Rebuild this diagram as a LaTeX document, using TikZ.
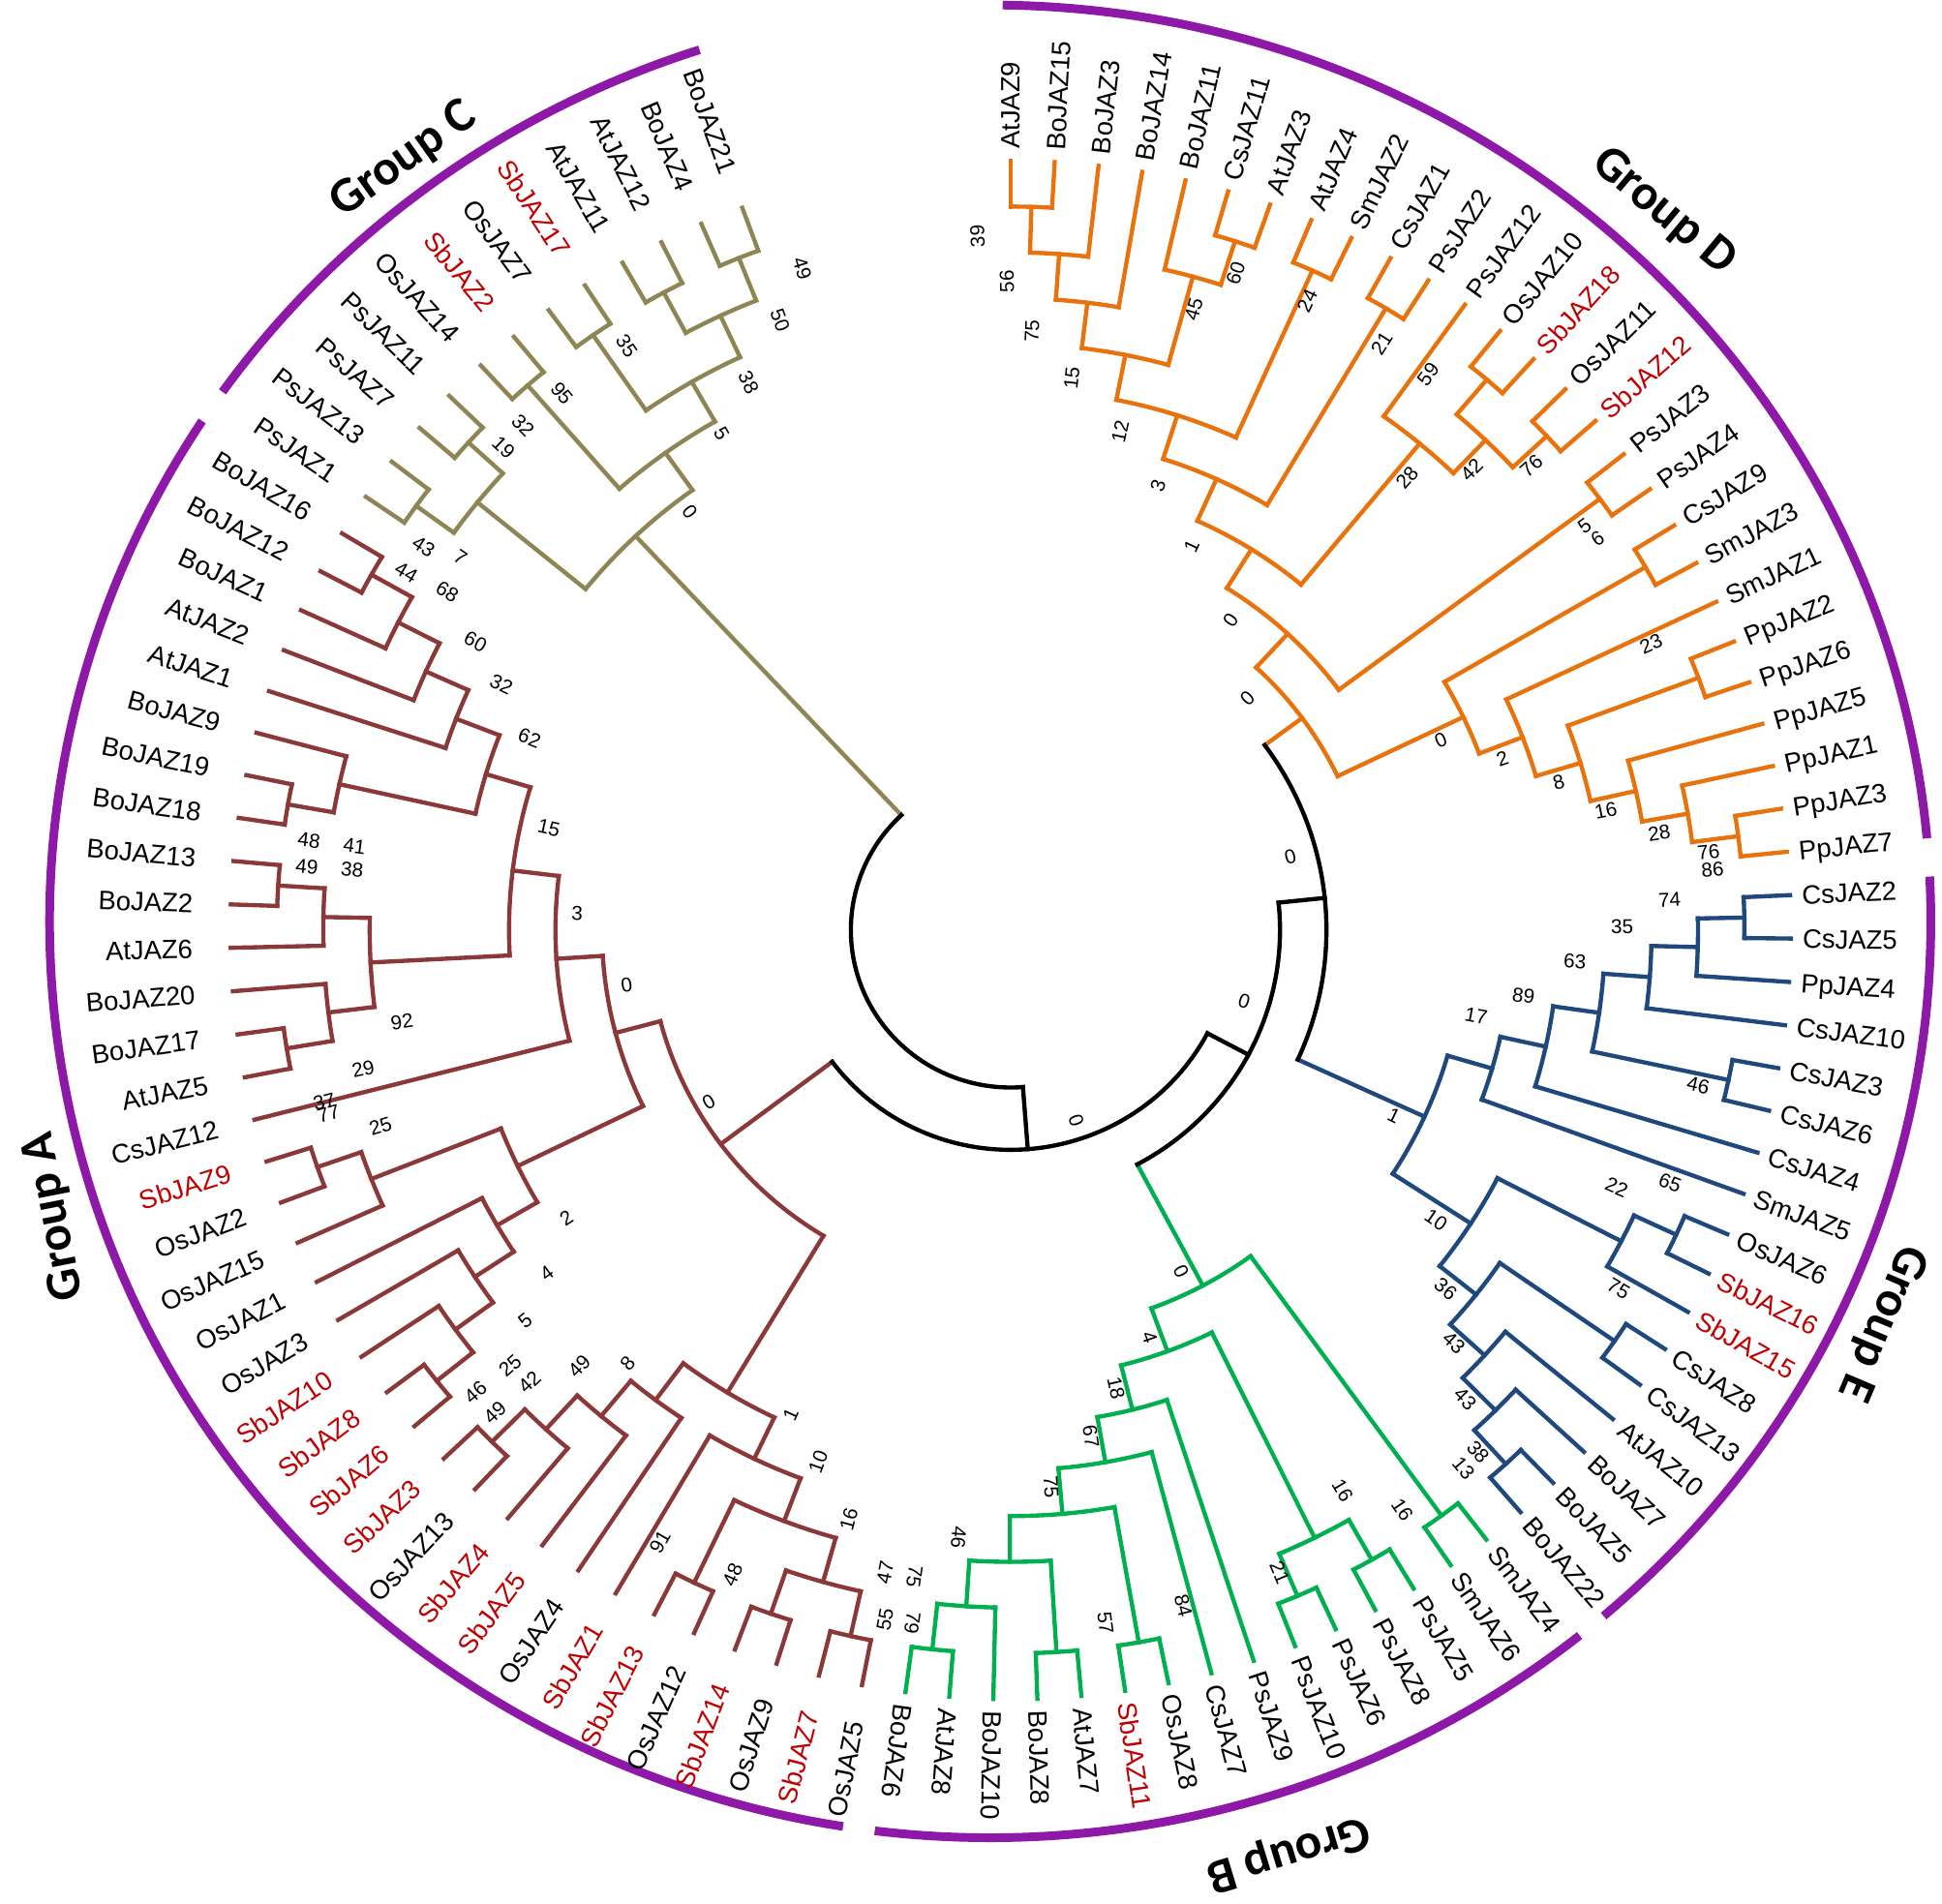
\documentclass[tikz,border=0pt]{standalone}
\usepackage{fontspec}
\setmainfont{Liberation Sans}
\newfontfamily\grpfont{Carlito}
\definecolor{cC}{RGB}{141,133,84}
\definecolor{cA}{RGB}{139,56,56}
\definecolor{cD}{RGB}{232,114,12}
\definecolor{cE}{RGB}{31,73,125}
\definecolor{cB}{RGB}{0,176,80}
\definecolor{cP}{RGB}{142,24,168}
\definecolor{cR}{RGB}{192,0,0}
\tikzset{
  br/.style={line width=0.34mm,line cap=rect},
  lab/.style={inner sep=0pt,font=\fontsize{6.1}{7}\selectfont,text height=4.4pt,text depth=0pt},
  bsn/.style={inner sep=0pt,font=\fontsize{4.6}{5}\selectfont},
  grp/.style={inner sep=0pt,font=\grpfont\bfseries\fontsize{11.4}{13}\selectfont},
  arcP/.style={draw=cP,line width=0.7mm},
}
\newcommand\defnode[4]{%
  \expandafter\xdef\csname ang@#1\endcsname{#2}%
  \expandafter\xdef\csname hh@#1\endcsname{#3}%
  \expandafter\xdef\csname col@#1\endcsname{#4}}
% leaf: [text colour]{name}{index}{branch colour}
\newcommand\leaf[4][black]{%
  \pgfmathsetmacro\la{90-3.237*#3}%
  \defnode{#2}{\la}{0}{#4}%
  \coordinate (#2) at (\la:630);%
  \ifnum#3<59\relax
    \node[lab,text=#1,anchor=west,rotate=\la] (t#2) at (\la:639) {#2};%
  \else
    \pgfmathsetmacro\lb{\la+180}%
    \node[lab,text=#1,anchor=east,rotate=\lb] (t#2) at (\la:660) {#2};%
  \fi}
% clade: [radius]{name}{child1}{child2}{colour}
\newcommand\clade[5][]{%
  \edef\aA{\csname ang@#3\endcsname}%
  \edef\aB{\csname ang@#4\endcsname}%
  \pgfmathtruncatemacro\hN{max(\csname hh@#3\endcsname,\csname hh@#4\endcsname)+1}%
  \if\relax\detokenize{#1}\relax
    \pgfmathsetmacro\rN{630-37.5*\hN}%
  \else
    \def\rN{#1}%
  \fi
  \pgfmathsetmacro\aN{(\aA+\aB)/2}%
  \edef\cA{\csname col@#3\endcsname}\edef\cB{\csname col@#4\endcsname}%
  \draw[br,draw=\cA] (#3) -- (\aA:\rN);%
  \draw[br,draw=\cB] (#4) -- (\aB:\rN);%
  \draw[br,draw=#5] (\aA:\rN) arc[start angle=\aA,end angle=\aB,radius=\rN];%
  \coordinate (#2) at (\aN:\rN);%
  \defnode{#2}{\aN}{\hN}{#5}}
% bootstrap value at (x,y) in picture pixels
\newcommand\bsv[3]{%
  \pgfmathsetmacro\bsang{atan2(751-#2,#1-816)}%
  \pgfmathsetmacro\bsrot{ifthenelse(and(\bsang>-99.5,\bsang<100),\bsang,\bsang+180)}%
  \node[bsn,rotate=\bsrot] at (#1,-#2) {#3};}
\begin{document}
\begin{tikzpicture}[x=0.1mm,y=0.1mm]
\fill[white] (0,0) rectangle (1568,-1537);
\useasboundingbox (0,0) rectangle (1568,-1537);
% group arcs
\coordinate (pc) at (799.5,-744);
\draw[arcP] (pc) ++(89.24:759.5 and 740) arc[start angle=89.24,end angle=5.2,x radius=759.5,y radius=740];
\draw[arcP] (pc) ++(2.8:759.5 and 740) arc[start angle=2.8,end angle=-49.3,x radius=759.5,y radius=740];
\draw[arcP] (pc) ++(-51.2:759.5 and 740) arc[start angle=-51.2,end angle=-97.05,x radius=759.5,y radius=740];
\draw[arcP] (pc) ++(-99:759.5 and 740) arc[start angle=-99,end angle=-213.1,x radius=759.5,y radius=740];
\draw[arcP] (pc) ++(-215.3:759.5 and 740) arc[start angle=-215.3,end angle=-252,x radius=759.5,y radius=740];
\node[grp,rotate=35.4] (gC) at (326,-129) {Group C};
\node[grp,rotate=-39.8] (gD) at (1343,-171) {Group D};
\node[grp,rotate=-113] (gE) at (1519,-1068) {Group E};
\node[grp,rotate=-163] (gB) at (1040,-1496) {Group B};
\node[grp,rotate=101] (gA) at (44,-982) {Group A};
\begin{scope}[shift={(816,-751)},yscale=0.986]
% Group D
\leaf{AtJAZ9}{0}{cD}
\leaf{BoJAZ15}{1}{cD}
\leaf{BoJAZ3}{2}{cD}
\leaf{BoJAZ14}{3}{cD}
\leaf{BoJAZ11}{4}{cD}
\leaf{CsJAZ11}{5}{cD}
\leaf{AtJAZ3}{6}{cD}
\leaf{AtJAZ4}{7}{cD}
\leaf{SmJAZ2}{8}{cD}
\leaf{CsJAZ1}{9}{cD}
\leaf{PsJAZ2}{10}{cD}
\leaf{PsJAZ12}{11}{cD}
\leaf{OsJAZ10}{12}{cD}
\leaf[cR]{SbJAZ18}{13}{cD}
\leaf{OsJAZ11}{14}{cD}
\leaf[cR]{SbJAZ12}{15}{cD}
\leaf{PsJAZ3}{16}{cD}
\leaf{PsJAZ4}{17}{cD}
\leaf{CsJAZ9}{18}{cD}
\leaf{SmJAZ3}{19}{cD}
\leaf{SmJAZ1}{20}{cD}
\leaf{PpJAZ2}{21}{cD}
\leaf{PpJAZ6}{22}{cD}
\leaf{PpJAZ5}{23}{cD}
\leaf{PpJAZ1}{24}{cD}
\leaf{PpJAZ3}{25}{cD}
\leaf{PpJAZ7}{26}{cD}
% Group E
\leaf{CsJAZ2}{27}{cE}
\leaf{CsJAZ5}{28}{cE}
\leaf{PpJAZ4}{29}{cE}
\leaf{CsJAZ10}{30}{cE}
\leaf{CsJAZ3}{31}{cE}
\leaf{CsJAZ6}{32}{cE}
\leaf{CsJAZ4}{33}{cE}
\leaf{SmJAZ5}{34}{cE}
\leaf{OsJAZ6}{35}{cE}
\leaf[cR]{SbJAZ16}{36}{cE}
\leaf[cR]{SbJAZ15}{37}{cE}
\leaf{CsJAZ8}{38}{cE}
\leaf{CsJAZ13}{39}{cE}
\leaf{AtJAZ10}{40}{cE}
\leaf{BoJAZ7}{41}{cE}
\leaf{BoJAZ5}{42}{cE}
\leaf{BoJAZ22}{43}{cE}
% Group B
\leaf{SmJAZ4}{44}{cB}
\leaf{SmJAZ6}{45}{cB}
\leaf{PsJAZ5}{46}{cB}
\leaf{PsJAZ8}{47}{cB}
\leaf{PsJAZ6}{48}{cB}
\leaf{PsJAZ10}{49}{cB}
\leaf{PsJAZ9}{50}{cB}
\leaf{CsJAZ7}{51}{cB}
\leaf{OsJAZ8}{52}{cB}
\leaf[cR]{SbJAZ11}{53}{cB}
\leaf{AtJAZ7}{54}{cB}
\leaf{BoJAZ8}{55}{cB}
\leaf{BoJAZ10}{56}{cB}
\leaf{AtJAZ8}{57}{cB}
\leaf{BoJAZ6}{58}{cB}
% Group A
\leaf{OsJAZ5}{59}{cA}
\leaf[cR]{SbJAZ7}{60}{cA}
\leaf{OsJAZ9}{61}{cA}
\leaf[cR]{SbJAZ14}{62}{cA}
\leaf{OsJAZ12}{63}{cA}
\leaf[cR]{SbJAZ13}{64}{cA}
\leaf[cR]{SbJAZ1}{65}{cA}
\leaf{OsJAZ4}{66}{cA}
\leaf[cR]{SbJAZ5}{67}{cA}
\leaf[cR]{SbJAZ4}{68}{cA}
\leaf{OsJAZ13}{69}{cA}
\leaf[cR]{SbJAZ3}{70}{cA}
\leaf[cR]{SbJAZ6}{71}{cA}
\leaf[cR]{SbJAZ8}{72}{cA}
\leaf[cR]{SbJAZ10}{73}{cA}
\leaf{OsJAZ3}{74}{cA}
\leaf{OsJAZ1}{75}{cA}
\leaf{OsJAZ15}{76}{cA}
\leaf{OsJAZ2}{77}{cA}
\leaf[cR]{SbJAZ9}{78}{cA}
\leaf{CsJAZ12}{79}{cA}
\leaf{AtJAZ5}{80}{cA}
\leaf{BoJAZ17}{81}{cA}
\leaf{BoJAZ20}{82}{cA}
\leaf{AtJAZ6}{83}{cA}
\leaf{BoJAZ2}{84}{cA}
\leaf{BoJAZ13}{85}{cA}
\leaf{BoJAZ18}{86}{cA}
\leaf{BoJAZ19}{87}{cA}
\leaf{BoJAZ9}{88}{cA}
\leaf{AtJAZ1}{89}{cA}
\leaf{AtJAZ2}{90}{cA}
\leaf{BoJAZ1}{91}{cA}
\leaf{BoJAZ12}{92}{cA}
\leaf{BoJAZ16}{93}{cA}
% Group C
\leaf{PsJAZ1}{94}{cC}
\leaf{PsJAZ13}{95}{cC}
\leaf{PsJAZ7}{96}{cC}
\leaf{PsJAZ11}{97}{cC}
\leaf{OsJAZ14}{98}{cC}
\leaf[cR]{SbJAZ2}{99}{cC}
\leaf{OsJAZ7}{100}{cC}
\leaf[cR]{SbJAZ17}{101}{cC}
\leaf{AtJAZ11}{102}{cC}
\leaf{AtJAZ12}{103}{cC}
\leaf{BoJAZ4}{104}{cC}
\leaf{BoJAZ21}{105}{cC}
% clades D
\clade{d1}{AtJAZ9}{BoJAZ15}{cD}
\clade{d2}{d1}{BoJAZ3}{cD}
\clade{d3}{d2}{BoJAZ14}{cD}
\clade{d4}{CsJAZ11}{AtJAZ3}{cD}
\clade{d5}{BoJAZ11}{d4}{cD}
\clade{d6}{d3}{d5}{cD}
\clade{d7}{AtJAZ4}{SmJAZ2}{cD}
\clade{d8}{d6}{d7}{cD}
\clade{d9}{CsJAZ1}{PsJAZ2}{cD}
\clade{d10}{d8}{d9}{cD}
\clade{d11}{OsJAZ10}{SbJAZ18}{cD}
\clade{d12}{OsJAZ11}{SbJAZ12}{cD}
\clade{d13}{d11}{d12}{cD}
\clade{d14}{PsJAZ12}{d13}{cD}
\clade{d15}{d10}{d14}{cD}
\clade{d16}{PsJAZ3}{PsJAZ4}{cD}
\clade{d17}{d15}{d16}{cD}
\clade{d18}{CsJAZ9}{SmJAZ3}{cD}
\clade{d19}{PpJAZ3}{PpJAZ7}{cD}
\clade{d20}{PpJAZ1}{d19}{cD}
\clade{d21}{PpJAZ5}{d20}{cD}
\clade{d22}{PpJAZ2}{PpJAZ6}{cD}
\clade{d23}{d22}{d21}{cD}
\clade{d24}{SmJAZ1}{d23}{cD}
\clade{d25}{d18}{d24}{cD}
\clade{dR}{d17}{d25}{cD}
% clades E
\clade{e1}{CsJAZ2}{CsJAZ5}{cE}
\clade{e2}{e1}{PpJAZ4}{cE}
\clade{e3}{e2}{CsJAZ10}{cE}
\clade{e4}{CsJAZ3}{CsJAZ6}{cE}
\clade{e5}{e3}{e4}{cE}
\clade{e6}{e5}{CsJAZ4}{cE}
\clade{e7}{e6}{SmJAZ5}{cE}
\clade{e8}{OsJAZ6}{SbJAZ16}{cE}
\clade{e9}{e8}{SbJAZ15}{cE}
\clade{e10}{CsJAZ8}{CsJAZ13}{cE}
\clade{e11}{BoJAZ5}{BoJAZ22}{cE}
\clade{e12}{BoJAZ7}{e11}{cE}
\clade{e13}{AtJAZ10}{e12}{cE}
\clade{e14}{e10}{e13}{cE}
\clade{e15}{e9}{e14}{cE}
\clade{eR}{e7}{e15}{cE}
% clades B
\clade{g1}{AtJAZ8}{BoJAZ6}{cB}
\clade{g2}{BoJAZ10}{g1}{cB}
\clade{g3}{AtJAZ7}{BoJAZ8}{cB}
\clade{g4}{g3}{g2}{cB}
\clade{g5}{OsJAZ8}{SbJAZ11}{cB}
\clade{g6}{g5}{g4}{cB}
\clade{g7}{CsJAZ7}{g6}{cB}
\clade{g8}{PsJAZ9}{g7}{cB}
\clade{g9}{PsJAZ6}{PsJAZ10}{cB}
\clade{g10}{PsJAZ5}{PsJAZ8}{cB}
\clade{g11}{g10}{g9}{cB}
\clade{g12}{g11}{g8}{cB}
\clade{g13}{SmJAZ4}{SmJAZ6}{cB}
\clade{gR}{g13}{g12}{cB}
% clades A
\clade{a1}{BoJAZ16}{BoJAZ12}{cA}
\clade{a2}{a1}{BoJAZ1}{cA}
\clade{a3}{a2}{AtJAZ2}{cA}
\clade{a4}{a3}{AtJAZ1}{cA}
\clade{a5}{BoJAZ19}{BoJAZ18}{cA}
\clade{a6}{BoJAZ9}{a5}{cA}
\clade{a7}{a4}{a6}{cA}
\clade{a8}{BoJAZ13}{BoJAZ2}{cA}
\clade{a9}{a8}{AtJAZ6}{cA}
\clade{a10}{BoJAZ17}{AtJAZ5}{cA}
\clade{a11}{BoJAZ20}{a10}{cA}
\clade{a12}{a9}{a11}{cA}
\clade{a13}{a7}{a12}{cA}
\clade{a14}{a13}{CsJAZ12}{cA}
\clade{a15}{SbJAZ9}{OsJAZ2}{cA}
\clade{a16}{a15}{OsJAZ15}{cA}
\clade{a17}{SbJAZ8}{SbJAZ6}{cA}
\clade{a18}{SbJAZ10}{a17}{cA}
\clade{a19}{OsJAZ3}{a18}{cA}
\clade{a20}{OsJAZ1}{a19}{cA}
\clade{a21}{a16}{a20}{cA}
\clade{a22}{a14}{a21}{cA}
\clade{a23}{SbJAZ3}{OsJAZ13}{cA}
\clade{a24}{a23}{SbJAZ4}{cA}
\clade{a25}{a24}{SbJAZ5}{cA}
\clade{a26}{a25}{OsJAZ4}{cA}
\clade{a27}{SbJAZ7}{OsJAZ5}{cA}
\clade{a28}{SbJAZ14}{OsJAZ9}{cA}
\clade{a29}{a28}{a27}{cA}
\clade{a30}{OsJAZ12}{SbJAZ13}{cA}
\clade{a31}{a30}{a29}{cA}
\clade{a32}{SbJAZ1}{a31}{cA}
\clade{a33}{a26}{a32}{cA}
\clade{aR}{a22}{a33}{cA}
% clades C
\clade{c1}{PsJAZ1}{PsJAZ13}{cC}
\clade{c2}{PsJAZ7}{PsJAZ11}{cC}
\clade{c3}{c1}{c2}{cC}
\clade{c4}{OsJAZ14}{SbJAZ2}{cC}
\clade{c5}{OsJAZ7}{SbJAZ17}{cC}
\clade{c6}{AtJAZ11}{AtJAZ12}{cC}
\clade{c7}{BoJAZ4}{BoJAZ21}{cC}
\clade{c8}{c6}{c7}{cC}
\clade{c9}{c5}{c8}{cC}
\clade{c10}{c4}{c9}{cC}
\clade{cR}{c3}{c10}{cC}
% root
\clade{de}{dR}{eR}{black}
\clade{bde}{de}{gR}{black}
\clade{abde}{bde}{aR}{black}
\clade[129]{root}{cR}{abde}{black}
\end{scope}
% bootstrap values
\bsv{789.2}{190.9}{39}\bsv{813}{227.3}{56}\bsv{833.3}{267.2}{75}\bsv{865.5}{305.4}{15}
\bsv{904.5}{348.7}{12}\bsv{935}{392.1}{3}\bsv{962.1}{440.7}{1}\bsv{993.5}{501}{0}
\bsv{997.7}{220.3}{60}\bsv{963.8}{249.8}{45}\bsv{1055.4}{242.9}{24}\bsv{1115.6}{277.5}{21}
\bsv{1153}{302.2}{59}\bsv{1136.1}{385.6}{28}\bsv{1188.2}{379.1}{42}\bsv{1236.4}{376.5}{76}
\bsv{1279.4}{424.7}{5}\bsv{1289.8}{435.1}{6}\bsv{1007.1}{564.1}{0}\bsv{1163.4}{598}{0}
\bsv{1213}{612.3}{2}\bsv{1258.6}{631.9}{8}\bsv{1296.5}{654.4}{16}\bsv{1339.7}{672.5}{28}
\bsv{1379.5}{688.3}{76}\bsv{1382.8}{702.1}{86}\bsv{1333}{520}{23}
\bsv{1348}{726.8}{74}\bsv{1309.8}{748.1}{35}\bsv{1271.6}{776.1}{63}\bsv{1230.1}{804.1}{89}
\bsv{1191.9}{820.5}{17}\bsv{1371.2}{876.5}{46}\bsv{1125.5}{901.1}{1}\bsv{1305.4}{958.9}{22}
\bsv{1348.4}{955}{65}\bsv{1159.5}{985}{10}\bsv{1306.8}{1041}{75}\bsv{1167.3}{1041}{36}
\bsv{1173.9}{1084}{43}\bsv{1183}{1129.6}{43}\bsv{1193.4}{1172.6}{38}\bsv{1181.7}{1185.6}{13}
\bsv{1041.8}{691.7}{0}\bsv{1004.5}{808.8}{0}\bsv{868.9}{904.5}{0}
\bsv{953.7}{1026.6}{0}\bsv{928.2}{1079.9}{4}\bsv{901.1}{1120.7}{18}\bsv{880.8}{1159.9}{67}
\bsv{848.6}{1200.8}{75}\bsv{774}{1241.6}{46}\bsv{892.6}{1310.6}{57}\bsv{955.4}{1296.5}{84}
\bsv{1033.3}{1269.8}{21}\bsv{1084}{1203.8}{16}\bsv{1132.2}{1219.2}{16}\bsv{738.4}{1273}{75}
\bsv{736.7}{1310.6}{79}
\bsv{714.7}{1269.8}{47}\bsv{714.7}{1307.5}{55}\bsv{467.7}{1103.5}{49}\bsv{506.8}{1100.9}{8}
\bsv{638.4}{1142.5}{1}\bsv{660.6}{1180.3}{10}\bsv{685.3}{1227.2}{16}\bsv{532.9}{1245.5}{91}
\bsv{591.5}{1271.5}{48}\bsv{424}{1066.5}{5}\bsv{411.8}{1102.8}{25}\bsv{427.5}{1116}{42}
\bsv{383.9}{1124.2}{46}\bsv{399.6}{1140.7}{49}\bsv{404.8}{553}{32}\bsv{427.5}{596}{62}
\bsv{443.2}{668.5}{15}\bsv{465.9}{737.9}{3}\bsv{506}{795.6}{0}\bsv{249.5}{678.5}{48}
\bsv{247.8}{699.9}{49}\bsv{286.2}{683.4}{41}\bsv{284.4}{702.5}{38}\bsv{324.6}{825.3}{92}
\bsv{293.2}{863.3}{29}\bsv{261.8}{889.7}{37}\bsv{265.2}{899.6}{77}\bsv{307.1}{909.5}{25}
\bsv{457.2}{983.7}{2}\bsv{441.5}{1028.3}{4}\bsv{572.3}{889.7}{0}\bsv{328}{462.4}{44}
\bsv{361.2}{478.1}{68}\bsv{383.9}{518.3}{60}
\bsv{342}{441.5}{43}\bsv{371.7}{450.2}{7}\bsv{406.6}{361.2}{19}\bsv{422.3}{343.8}{32}
\bsv{453.7}{317.6}{95}\bsv{506}{279.2}{35}\bsv{647.7}{216.9}{49}\bsv{629.9}{258.5}{50}
\bsv{604.5}{308.8}{38}\bsv{582.5}{350.5}{5}\bsv{557}{412.9}{0}
\end{tikzpicture}
\end{document}
